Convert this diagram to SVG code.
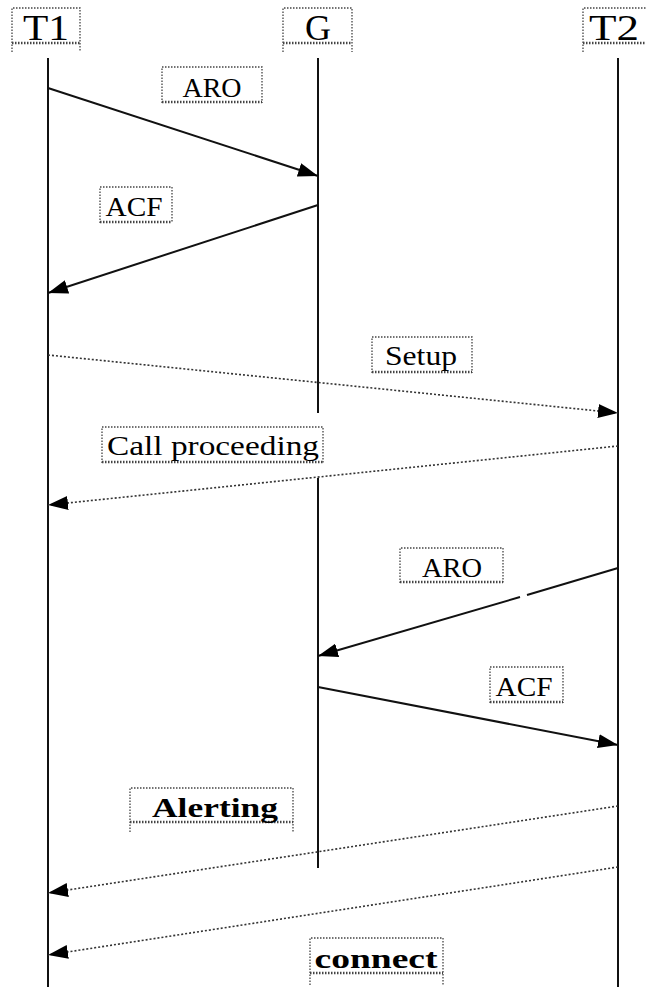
<svg xmlns="http://www.w3.org/2000/svg" width="646" height="987" viewBox="0 0 646 987">
<style>
.life{stroke:#111;stroke-width:2;fill:none}
.sol{stroke:#111;stroke-width:2;fill:none}
.dot{stroke:#333;stroke-width:1.6;stroke-dasharray:2 2;fill:none}
.bx{stroke:#444;stroke-width:1.3;stroke-dasharray:1.5 1.5;fill:none}
.bxb{stroke:#444;stroke-width:2.6;stroke-dasharray:1.5 1.5;fill:none}
.t{font-family:"Liberation Serif","Times New Roman",serif;font-size:28px;fill:#000;text-anchor:middle}
.h{font-family:"Liberation Serif","Times New Roman",serif;font-size:36px;fill:#000;text-anchor:middle}
.b{font-weight:bold}
</style>
<defs>
<marker id="ah" viewBox="0 0 20 14" refX="20" refY="7" markerWidth="20" markerHeight="14" markerUnits="userSpaceOnUse" orient="auto">
<path d="M0,0 L20,7 L0,14 Z" fill="#000"/>
</marker>
</defs>
<g id="T1">
<path class="bx" d="M12,52 V8 H80 V52"/><path class="bxb" d="M12,43 H80"/>
<text class="h" x="46" y="40" textLength="46" lengthAdjust="spacingAndGlyphs">T1</text>
<line class="life" x1="48" y1="58" x2="48" y2="987"/>
</g>
<g id="G">
<path class="bx" d="M283,52 V8 H352 V52"/><path class="bxb" d="M283,43 H352"/>
<text class="h" x="318" y="40">G</text>
<line class="life" x1="318" y1="58" x2="318" y2="413"/>
<line class="life" x1="318" y1="478" x2="318" y2="868"/>
</g>
<g id="T2">
<path class="bx" d="M583,52 V8 H646"/><path class="bxb" d="M583,43 H646"/>
<text class="h" x="614" y="40" textLength="50" lengthAdjust="spacingAndGlyphs">T2</text>
<line class="life" x1="618" y1="58" x2="618" y2="987"/>
</g>
<g id="connectors">
<line class="sol" x1="48" y1="88" x2="318" y2="176" marker-end="url(#ah)"/>
<line class="sol" x1="318" y1="205" x2="48" y2="293" marker-end="url(#ah)"/>
<line class="dot" x1="48" y1="355" x2="618" y2="413" marker-end="url(#ah)"/>
<line class="dot" x1="618" y1="446" x2="48" y2="505" marker-end="url(#ah)"/>
<line class="sol" x1="618" y1="568" x2="527" y2="595"/>
<line class="sol" x1="520" y1="597" x2="318" y2="656" marker-end="url(#ah)"/>
<line class="sol" x1="318" y1="687" x2="618" y2="745" marker-end="url(#ah)"/>
<line class="dot" x1="618" y1="806" x2="48" y2="893" marker-end="url(#ah)"/>
<line class="dot" x1="618" y1="867" x2="48" y2="955" marker-end="url(#ah)"/>
</g>
<g id="lbl-aro1">
<path class="bx" d="M162,103 V67 H262 V103"/><path class="bxb" d="M162,102 H262"/>
<text class="t" x="212" y="97" textLength="59" lengthAdjust="spacingAndGlyphs">ARO</text>
</g>
<g id="lbl-acf1">
<path class="bx" d="M100,223 V187 H172 V223"/><path class="bxb" d="M100,222 H172"/>
<text class="t" x="134" y="216" textLength="57" lengthAdjust="spacingAndGlyphs">ACF</text>
</g>
<g id="lbl-setup">
<path class="bx" d="M372,373 V337 H472 V373"/><path class="bxb" d="M372,372 H472"/>
<text class="t" x="421" y="365" textLength="72" lengthAdjust="spacingAndGlyphs">Setup</text>
</g>
<g id="lbl-callproc">
<path class="bx" d="M102,463 V427 H323 V463"/><path class="bxb" d="M102,462 H323"/>
<text class="t" x="213" y="455" textLength="212" lengthAdjust="spacingAndGlyphs">Call proceeding</text>
</g>
<g id="lbl-aro2">
<path class="bx" d="M400,583 V548 H503 V583"/><path class="bxb" d="M400,582 H503"/>
<text class="t" x="452" y="577" textLength="60" lengthAdjust="spacingAndGlyphs">ARO</text>
</g>
<g id="lbl-acf2">
<path class="bx" d="M490,703 V667 H563 V703"/><path class="bxb" d="M490,702 H563"/>
<text class="t" x="524" y="696" textLength="57" lengthAdjust="spacingAndGlyphs">ACF</text>
</g>
<g id="lbl-alerting">
<path class="bx" d="M130,832 V788 H293 V832"/><path class="bxb" d="M130,822 H293"/>
<text class="t b" x="215" y="817" textLength="126" lengthAdjust="spacingAndGlyphs">Alerting</text>
</g>
<g id="lbl-connect">
<path class="bx" d="M310,985 V938 H443 V985"/><path class="bxb" d="M310,973 H443"/>
<text class="t b" x="376" y="968" textLength="123" lengthAdjust="spacingAndGlyphs">connect</text>
</g>
</svg>
